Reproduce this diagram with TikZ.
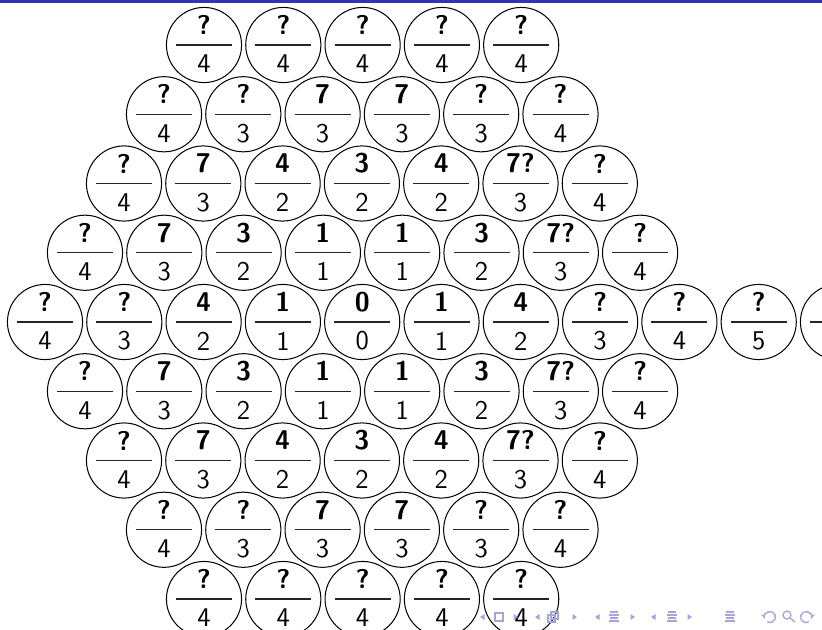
\documentclass[tikz,border=0pt]{standalone}
\usepackage{tikz}
\usetikzlibrary{calc, arrows.meta}
\definecolor{barblue}{RGB}{51, 51, 179}
\definecolor{navcol}{RGB}{165, 165, 220}

\begin{document}
\begin{tikzpicture}[
    x = 0.1557mm, y = -0.1557mm,
    cell/.style    = {draw, circle, line width=0.45pt, minimum size=11.7mm, inner sep=0pt},
    num/.style     = {font=\fontsize{12}{14}\selectfont\sffamily\bfseries, inner sep=0pt},
    den/.style     = {font=\fontsize{12}{14}\selectfont\sffamily, inner sep=0pt},
    fracbar/.style = {line width=0.5pt, black!85},
    navtri/.style  = {fill=navcol, draw=none},
    navline/.style = {draw=navcol, line width=0.6pt},
  ]
  \useasboundingbox (0,0) rectangle (822,629);
  \clip (0,0) rectangle (822,629);
  \fill[barblue] (0,0) rectangle (822,3.5);

  % hexagonal board, row by row
  \foreach \r/\sx/\cl in {
      1/204/{?/4,?/4,?/4,?/4,?/4},
      2/164/{?/4,?/3,7/3,7/3,?/3,?/4},
      3/124/{?/4,7/3,4/2,3/2,4/2,7?/3,?/4},
      4/85/{?/4,7/3,3/2,1/1,1/1,3/2,7?/3,?/4},
      5/45/{?/4,?/3,4/2,1/1,0/0,1/1,4/2,?/3,?/4,?/5,{}/{}},
      6/85/{?/4,7/3,3/2,1/1,1/1,3/2,7?/3,?/4},
      7/124/{?/4,7/3,4/2,3/2,4/2,7?/3,?/4},
      8/164/{?/4,?/3,7/3,7/3,?/3,?/4},
      9/204/{?/4,?/4,?/4,?/4,?/4}}{
    \foreach \n/\d [count=\k from 0] in \cl {
      \node[cell] (c-\r-\k) at ({\sx+79.3*\k},{45+69.25*(\r-1)}) {};
      \draw[fracbar] ($(c-\r-\k.center)+(-28,0)$) -- ($(c-\r-\k.center)+(28,0)$);
      \node[num] (n-\r-\k) at ($(c-\r-\k.center)+(0,-20)$) {\n};
      \node[den] (d-\r-\k) at ($(c-\r-\k.center)+(0,19)$) {\d};
    }
  }

  % navigation symbols
  \foreach \x in {482,537,597,653}
    \fill[navtri] (\x+2.5,614) -- (\x-2,617) -- (\x+2.5,620) -- cycle;
  \foreach \x in {516,575,633,690}
    \fill[navtri] (\x-2.5,614) -- (\x+2,617) -- (\x-2.5,620) -- cycle;
  \draw[navline] (495,613) rectangle (503,621);
  \draw[navline] (548,615) rectangle (555,622);
  \draw[navline] (551,612) rectangle (558,619);
  \foreach \x in {614,672,730} {
    \draw[navline] (\x-4,612) -- (\x+4,612);
    \draw[navline] (\x-5,615) -- (\x+5,615);
    \draw[navline] (\x-4,618) -- (\x+4,618);
    \draw[navline] (\x-5,621) -- (\x+5,621);
  }
  \draw[navline, {Stealth[length=2.5pt]}-] (770,617) ++(160:5.5) arc (160:480:5.5);
  \draw[navline] (787,615) circle (4);
  \draw[navline] (790,618) -- (795,622);
  \draw[navline, {Stealth[length=2.5pt]}-] (806,617) ++(20:5.5) arc (20:-300:5.5);
\end{tikzpicture}
\end{document}
